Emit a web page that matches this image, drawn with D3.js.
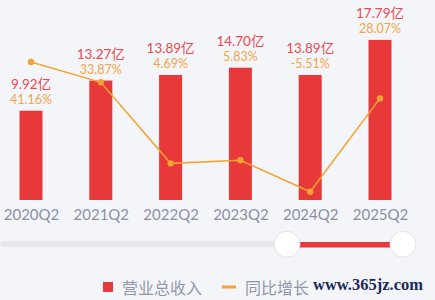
<!DOCTYPE html>
<html><head><meta charset="utf-8">
<script src="https://cdn.jsdelivr.net/npm/d3@7"></script>
<style>
html,body{margin:0;padding:0;background:#f4f5f9;}
svg{display:block;}
text{font-family:"Lato","Noto Sans CJK SC",sans-serif;}
</style></head>
<body>
<script>
const categories = ["2020Q2","2021Q2","2022Q2","2023Q2","2024Q2","2025Q2"];
const revenue = [9.92, 13.27, 13.89, 14.70, 13.89, 17.79];
const revenueLabels = ["9.92亿","13.27亿","13.89亿","14.70亿","13.89亿","17.79亿"];
const growth = [41.16, 33.87, 4.69, 5.83, -5.51, 28.07];
const growthLabels = ["41.16%","33.87%","4.69%","5.83%","-5.51%","28.07%"];
const legendNames = ["营业总收入","同比增长"];
const watermark = "www.365jz.com";

const W = 435, H = 300;
const svg = d3.select("body").append("svg").attr("width", W).attr("height", H);
svg.append("rect").attr("width", W).attr("height", H).attr("fill", "#f4f5f9");

const x = d3.scalePoint().domain(categories).range([31, 380]);
const y = d3.scaleLinear().domain([0, 20]).range([200, 20]);
const y2 = d3.scaleLinear().domain([-8.5, 56.3]).range([200, 20]);
const barW = 23;
const RED = "#e7383a", ORANGE = "#f5a232";

// bars
svg.append("g").selectAll("rect").data(categories).join("rect")
  .attr("x", d => x(d) - barW / 2)
  .attr("y", (d, i) => y(revenue[i]))
  .attr("width", barW)
  .attr("height", (d, i) => y(0) - y(revenue[i]))
  .attr("fill", RED);

// line
const line = d3.line().x((d, i) => x(categories[i])).y(d => y2(d));
svg.append("path").datum(growth).attr("d", line)
  .attr("fill", "none").attr("stroke", ORANGE).attr("stroke-width", 1.5);
svg.append("g").selectAll("circle").data(growth).join("circle")
  .attr("cx", (d, i) => x(categories[i])).attr("cy", d => y2(d))
  .attr("r", 3.2).attr("fill", ORANGE);

// labels
svg.append("g").selectAll("text").data(categories).join("text")
  .attr("x", d => x(d)).attr("y", (d, i) => y(revenue[i]) - 22)
  .attr("text-anchor", "middle").attr("font-size", 13.5).attr("fill", "#ea4a52")
  .text((d, i) => revenueLabels[i]);
svg.append("g").selectAll("text").data(categories).join("text")
  .attr("x", d => x(d)).attr("y", (d, i) => y(revenue[i]) - 7)
  .attr("text-anchor", "middle").attr("font-size", 12.5).attr("fill", "#f3a546")
  .text((d, i) => growthLabels[i]);

// x axis
const ax = svg.append("g").attr("transform", "translate(0,200)")
  .call(d3.axisBottom(x).tickSize(0).tickPadding(9));
ax.select(".domain").remove();
ax.selectAll("text").attr("font-size", 15).attr("fill", "#8a90a2")
  .style("font-family", "Lato, 'Noto Sans CJK SC', sans-serif");

// slider
svg.append("rect").attr("x", 0).attr("y", 241).attr("width", 290).attr("height", 6)
  .attr("rx", 3).attr("fill", "#e6e7ec");
svg.append("rect").attr("x", 290).attr("y", 242).attr("width", 110).attr("height", 5.5)
  .attr("fill", RED);
[287, 403].forEach(cx => {
  svg.append("circle").attr("cx", cx).attr("cy", 244.3).attr("r", 13)
    .attr("fill", "#ffffff").attr("stroke", "#e3e4ea").attr("stroke-width", 1);
});

// legend
svg.append("rect").attr("x", 103).attr("y", 282).attr("width", 10).attr("height", 10).attr("fill", RED);
svg.append("text").attr("x", 122).attr("y", 294).attr("font-size", 16).attr("fill", "#9097a8")
  .style("font-family", "'Noto Sans CJK SC', sans-serif").text(legendNames[0]);
svg.append("rect").attr("x", 222).attr("y", 285.5).attr("width", 14).attr("height", 3).attr("fill", ORANGE);
svg.append("text").attr("x", 245).attr("y", 294).attr("font-size", 16).attr("fill", "#9097a8")
  .style("font-family", "'Noto Sans CJK SC', sans-serif").text(legendNames[1]);

// watermark
svg.append("text").attr("x", 313).attr("y", 290).attr("font-size", 16.5).attr("font-weight", "bold")
  .attr("fill", "#1b2a5c").style("font-family", "'Liberation Serif', serif").text(watermark);
</script>
</body></html>
